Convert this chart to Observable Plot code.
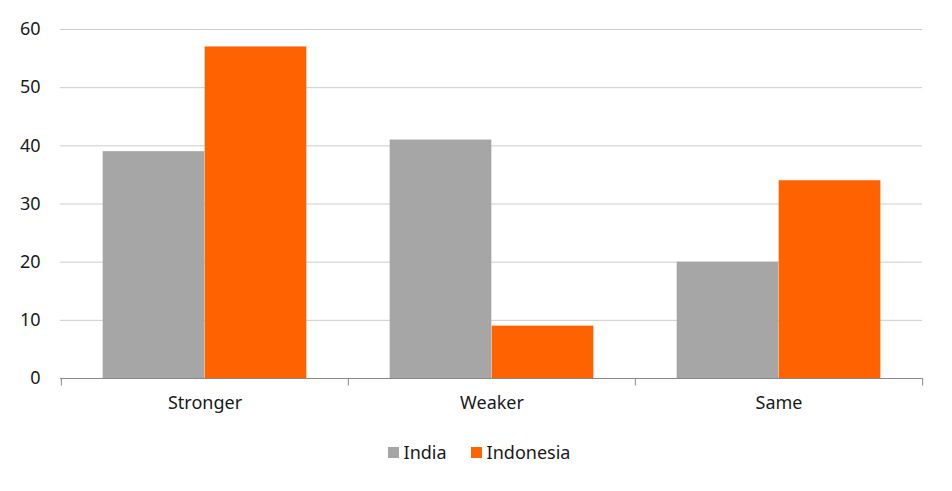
<!DOCTYPE html>
<html><head><meta charset="utf-8">
<script src="https://cdn.jsdelivr.net/npm/d3@7"></script>
<script src="https://cdn.jsdelivr.net/npm/@observablehq/plot@0.6"></script>
<style>
body{margin:0;background:#fff;font-family:"Noto Sans",sans-serif;}
#legend{display:flex;justify-content:center;align-items:center;gap:24px;font-size:18px;color:#1a1a1a;margin-top:16px;line-height:22px;padding-left:6px;}
#legend span.item{display:flex;align-items:center;}
#legend span.sw{display:inline-block;width:11px;height:11px;margin-right:5px;}
</style></head>
<body><div id="chart"></div><div id="legend"></div>
<script>
const categories = ["Stronger", "Weaker", "Same"];
const series = ["India", "Indonesia"];
const india = [39, 41, 20];
const indonesia = [57, 9, 34];
const yTicks = [0, 10, 20, 30, 40, 50, 60];
const colors = ["#a6a6a6", "#ff6200"];

const data = categories.flatMap((c, i) => [
  {category: c, series: "India", value: india[i]},
  {category: c, series: "Indonesia", value: indonesia[i]}
]);

const W = 952, H = 425, ML = 60, MR = 30, MT = 29, MB = 47;
const band = (W - ML - MR) / categories.length;
const pad = band * 0.145;
const bw = (band - 2 * pad) / 2;

const chart = Plot.plot({
  width: W, height: H,
  marginLeft: ML, marginRight: MR, marginTop: MT, marginBottom: MB,
  style: {fontFamily: '"Noto Sans", sans-serif', fontSize: "18px", color: "#1a1a1a", background: "#fff"},
  x: {domain: categories, padding: 0, label: null},
  y: {domain: [0, 60], label: null},
  color: {domain: series, range: colors},
  marks: [
    Plot.gridY(yTicks.filter(d => d > 0), {stroke: "#cccccc", strokeOpacity: 1}),
    Plot.axisY(yTicks, {tickSize: 0, tickPadding: 20, label: null, fontSize: 18}),
    Plot.barY(data.filter(d => d.series === "India"), {x: "category", y: "value", fill: d => d.series, insetLeft: pad, insetRight: band - pad - bw}),
    Plot.barY(data.filter(d => d.series === "Indonesia"), {x: "category", y: "value", fill: d => d.series, insetLeft: pad + bw, insetRight: pad}),
    Plot.ruleY([0], {stroke: "#888888"}),
    Plot.ruleX(categories, {x: d => d, y1: 0, y2: -1.3, dx: -band / 2, stroke: "#888888"}),
    Plot.ruleX(categories.slice(-1), {x: d => d, y1: 0, y2: -1.3, dx: band / 2, stroke: "#888888"}),
    Plot.axisX({tickSize: 0, tickPadding: 18, label: null, fontSize: 18})
  ]
});
document.getElementById("chart").appendChild(chart);

const legend = document.getElementById("legend");
series.forEach((s, i) => {
  const item = document.createElement("span");
  item.className = "item";
  const sw = document.createElement("span");
  sw.className = "sw";
  sw.style.background = colors[i];
  item.appendChild(sw);
  item.appendChild(document.createTextNode(s));
  legend.appendChild(item);
});
</script>
</body></html>
